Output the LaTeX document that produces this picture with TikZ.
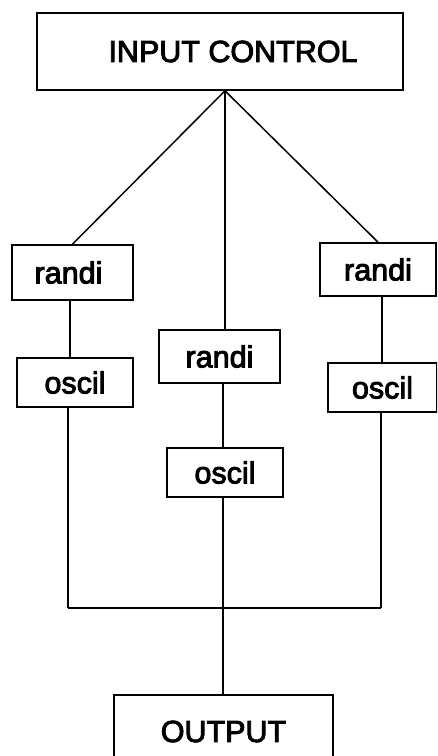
\documentclass[tikz,border=0pt]{standalone}
\usepackage{fontspec}
\setmainfont{Liberation Sans}
\newfontfamily\heavy{Liberation Sans}[FakeBold=3]
\usetikzlibrary{calc}
\begin{document}
\begin{tikzpicture}[x=1pt,y=1pt,
  box/.style={draw, line width=1.6pt, inner sep=0pt, rectangle,
    font=\heavy\fontsize{30.5}{32}\selectfont},
  wire/.style={line width=1.5pt}]
\useasboundingbox (0,0) rectangle (437,756);
\clip (0,0) rectangle (437,756);
\fill[white] (0,0) rectangle (437,756);
% boxes
\node[box, minimum width=366pt, minimum height=77pt] (ic) at (220,704.5) {\hspace*{26pt}INPUT CONTROL};
\node[box, minimum width=121pt, minimum height=55pt] (r1) at (72.5,483.5) {\hspace*{-8pt}randi};
\node[box, minimum width=116pt, minimum height=49pt] (o1) at (75,373.5) {oscil};
\node[box, minimum width=121pt, minimum height=53pt] (r2) at (219.5,399.5) {randi};
\node[box, minimum width=116pt, minimum height=49pt] (o2) at (225,283.5) {oscil};
\node[box, minimum width=116pt, minimum height=53pt] (r3) at (378,486.5) {randi};
\node[box, minimum width=109pt, minimum height=49pt] (o3) at (382.5,368.5) {oscil};
\node[box, minimum width=219pt, minimum height=73pt] (out) at (223.5,24.5) {OUTPUT};
% coordinates
\coordinate (apex) at ($(ic.south)+(5,0)$);
\coordinate (s1) at ($(r1.south)+(-2.5,0)$);
\coordinate (s2) at ($(r2.south)+(3.5,0)$);
\coordinate (s3) at ($(r3.south)+(4,0)$);
\coordinate (bL) at (68,148);
\coordinate (bM) at (223,148);
\coordinate (bR) at (381,148);
% connectors from input control
\draw[wire] (apex) -- (r1.north);
\draw[wire] (apex) -- (apex |- r2.north);
\draw[wire] (apex) -- (r3.north);
% randi -> oscil
\draw[wire] (s1) -- (s1 |- o1.north);
\draw[wire] (s2) -- (s2 |- o2.north);
\draw[wire] (s3) -- (s3 |- o3.north);
% oscil -> bus
\draw[wire] (o1.south -| bL) -- (bL);
\draw[wire] (o2.south -| bM) -- (bM);
\draw[wire] (o3.south -| bR) -- (bR);
\draw[wire] (bL) -- (bR);
\draw[wire] (bM) -- (bM |- out.north);
\end{tikzpicture}
\end{document}
